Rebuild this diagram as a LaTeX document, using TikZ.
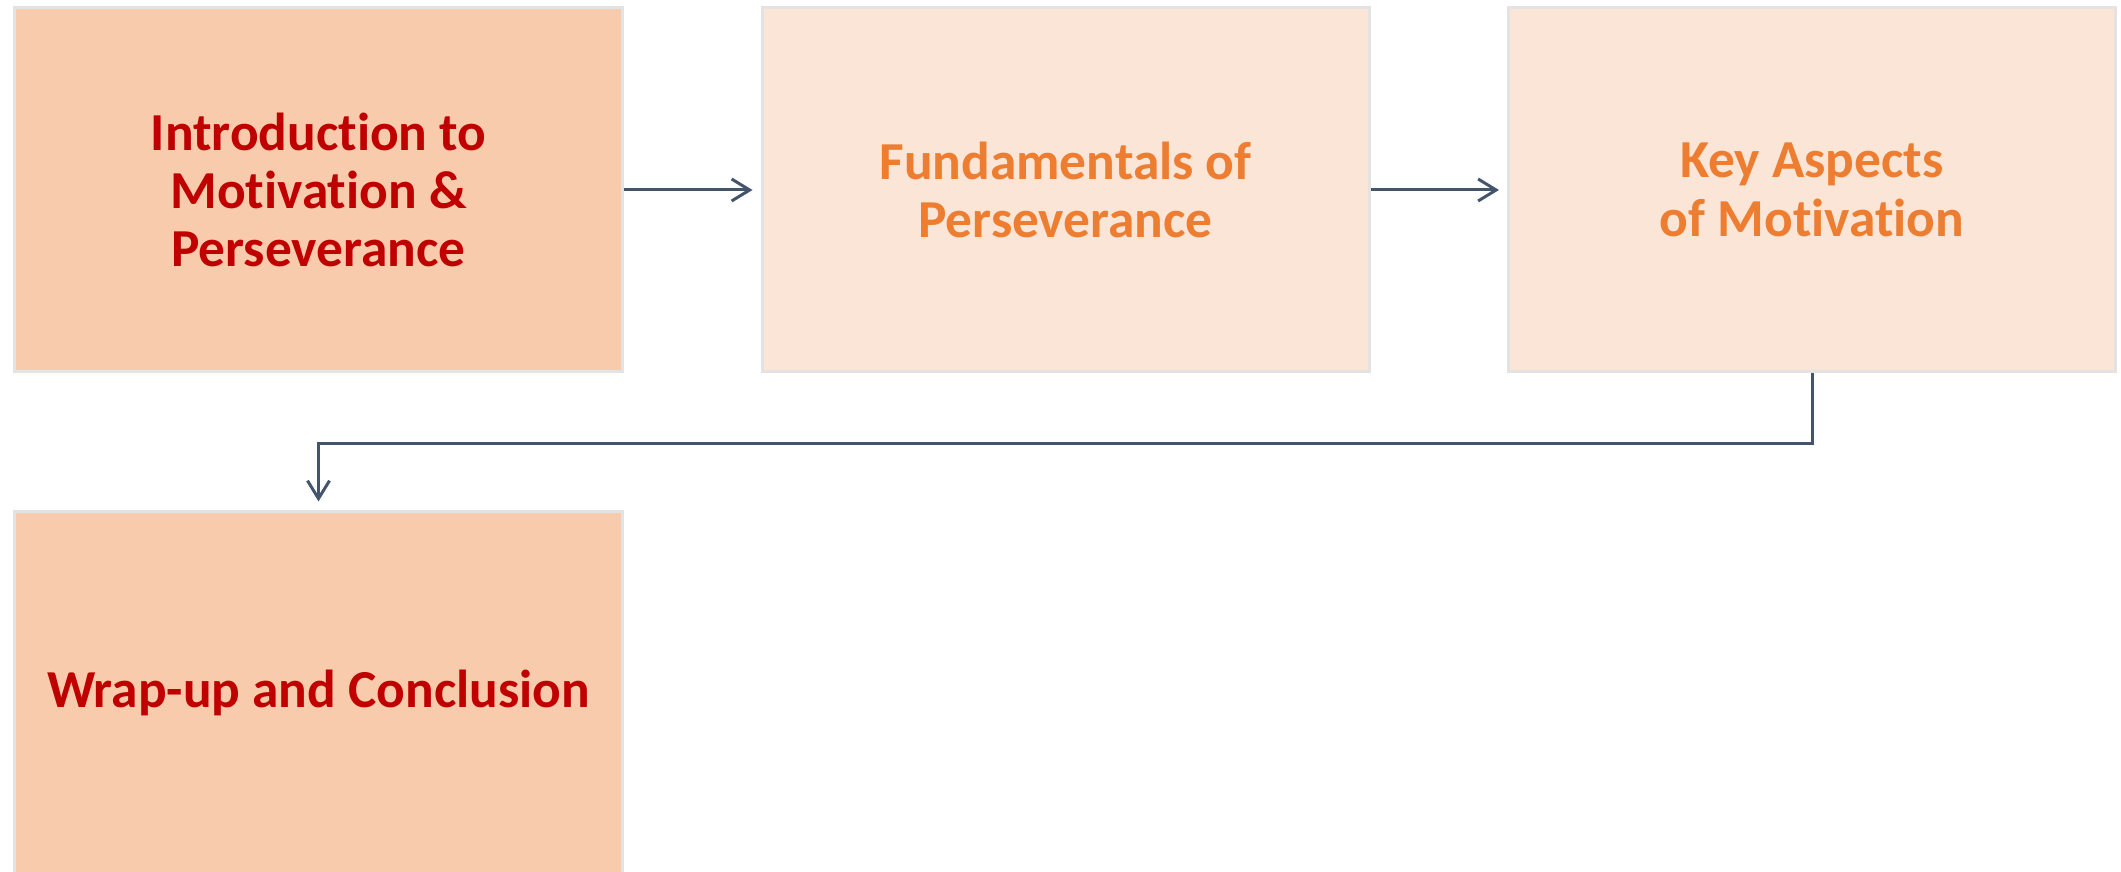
\documentclass[tikz,border=0pt]{standalone}
\usepackage{fontspec}
\setmainfont[Ligatures=NoCommon]{Carlito}
\usepackage{tikz}
\usetikzlibrary{arrows.meta,positioning,calc}
\definecolor{deep}{HTML}{F8CBAD}
\definecolor{pale}{HTML}{FBE5D6}
\definecolor{rim}{HTML}{E3E3E3}
\definecolor{darkred}{HTML}{C00000}
\definecolor{accent}{HTML}{ED7D31}
\definecolor{slate}{HTML}{44546A}
\tikzset{
  stage/.style={draw=rim,line width=0.03cm,align=center,minimum width=6.07cm,minimum height=3.64cm,inner sep=4pt,
    font=\fontsize{15.2}{16.6}\selectfont\bfseries},
  main/.style={stage,fill=deep,text=darkred},
  sub/.style={stage,fill=pale,text=accent},
  arr/.style={-{Straight Barb[length=1.8mm,width=2.2mm,line width=0.03cm]},draw=slate,line width=0.03cm,shorten >=0.8mm}
}
\begin{document}
\begin{tikzpicture}
\useasboundingbox (0,0) rectangle (21.21,-8.72);
\node[main] (intro) at (3.185,-1.90) {Introduction to\\Motivation \&\\Perseverance};
\node[sub] (fund) at (10.655,-1.90) {Fundamentals of\\Perseverance};
\node[sub] (key) at (18.12,-1.90) {Key Aspects\\of Motivation};
\node[main] (wrap) at (3.185,-6.93) {Wrap-up and Conclusion};
\draw[arr] (intro) -- (fund);
\draw[arr] (fund) -- (key);
\draw[arr] (key.south) -- ++(0,-0.70) -| (wrap.north);
\end{tikzpicture}
\end{document}
